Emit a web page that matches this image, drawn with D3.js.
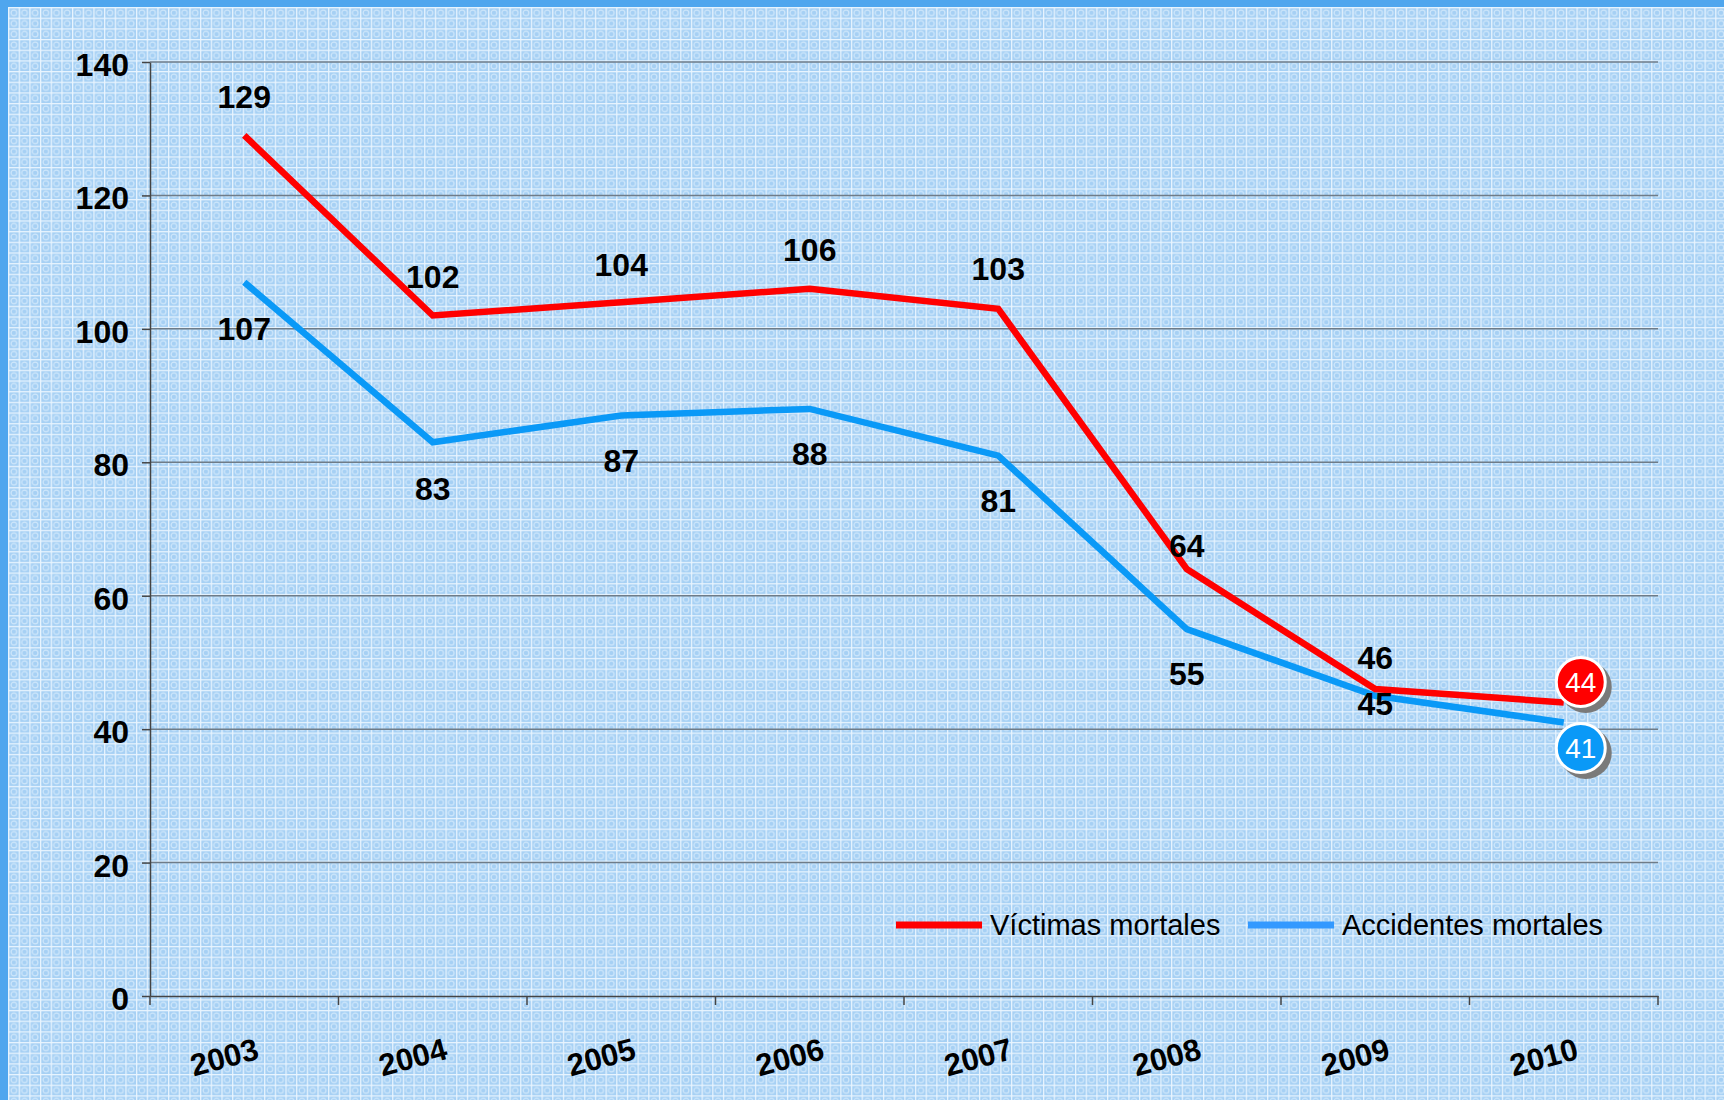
<!DOCTYPE html>
<html><head><meta charset="utf-8">
<script src="https://cdn.jsdelivr.net/npm/d3@7"></script>
<style>html,body{margin:0;padding:0;background:#fff;}svg{display:block;}</style>
</head><body>
<script>
const years = ["2003","2004","2005","2006","2007","2008","2009","2010"];
const victimas = [129,102,104,106,103,64,46,44];
const accidentes = [107,83,87,88,81,55,45,41];
const yTicks = [0,20,40,60,80,100,120,140];
const seriesNames = ["Víctimas mortales","Accidentes mortales"];
// label vertical offsets (px) relative to point
const victimasDy = [-39,-39,-38,-39,-40,-24,-32];
const accidentesDy = [46,46,45,45,45,44,8];

const W=1724,H=1100;
const svg=d3.select("body").append("svg").attr("width",W).attr("height",H);
const defs=svg.append("defs");
const cs=10.67;
const pat=defs.append("pattern").attr("id","bg").attr("patternUnits","userSpaceOnUse")
  .attr("x",8).attr("y",7).attr("width",cs).attr("height",cs);
pat.append("rect").attr("width",cs).attr("height",cs).attr("fill","#a6d0f4");
pat.append("circle").attr("cx",cs/2+0.5).attr("cy",cs/2+0.5).attr("r",2.8).attr("fill","none").attr("stroke","#cfe7fb").attr("stroke-width",1.2);
pat.append("rect").attr("x",0).attr("y",0).attr("width",cs).attr("height",1.3).attr("fill","#e8f4fe");
pat.append("rect").attr("x",0).attr("y",0).attr("width",1.3).attr("height",cs).attr("fill","#e8f4fe");

svg.append("rect").attr("width",W).attr("height",H).attr("fill","url(#bg)");
svg.append("rect").attr("x",0).attr("y",0).attr("width",W).attr("height",7).attr("fill","#4fa6ee");
svg.append("rect").attr("x",0).attr("y",0).attr("width",8).attr("height",H).attr("fill","#4fa6ee");

const x=d3.scaleBand().domain(years).range([150,1658]);
const y=d3.scaleLinear().domain([0,140]).range([996,62]);
const cx=d=>x(d)+x.bandwidth()/2;
const font="'Liberation Sans', Arial, Helvetica, sans-serif";

// gridlines
svg.append("g").selectAll("line").data(yTicks.filter(v=>v>0)).join("line")
  .attr("x1",150).attr("x2",1658).attr("y1",d=>y(d)).attr("y2",d=>y(d))
  .attr("stroke","#6f7c88").attr("stroke-width",1.5);

// y axis
const ya=svg.append("g").attr("transform","translate(150,0)")
  .call(d3.axisLeft(y).tickValues(yTicks).tickSize(8).tickSizeOuter(0).tickPadding(13));
ya.select(".domain").attr("stroke","#444").attr("stroke-width",1.5);
ya.selectAll(".tick line").attr("stroke","#444").attr("stroke-width",1.5);
ya.selectAll(".tick text").attr("font-family",font).attr("font-size",32).attr("font-weight","bold")
  .attr("fill","#000").attr("dy","0.42em");

// x axis
const xa=svg.append("g").attr("transform","translate(0,996)")
  .call(d3.axisBottom(x).tickSize(0).tickFormat(""));
xa.select(".domain").attr("stroke","#444").attr("stroke-width",1.5);
svg.append("g").selectAll("line").data(d3.range(years.length+1)).join("line")
  .attr("x1",i=>150+i*x.step()).attr("x2",i=>150+i*x.step()).attr("y1",996).attr("y2",1005)
  .attr("stroke","#444").attr("stroke-width",1.5);
svg.append("g").selectAll("text").data(years).join("text")
  .attr("transform",d=>`translate(${cx(d)-20},1057) rotate(-15)`)
  .attr("text-anchor","middle").attr("dy","0.35em")
  .attr("font-family",font).attr("font-size",31).attr("font-weight","bold").attr("fill","#000")
  .text(d=>d);

// lines
const line=d3.line().x((d,i)=>cx(years[i])).y(d=>y(d));
svg.append("path").datum(accidentes).attr("d",line).attr("fill","none").attr("stroke","#0a99f7").attr("stroke-width",6.5);
svg.append("path").datum(victimas).attr("d",line).attr("fill","none").attr("stroke","#ff0000").attr("stroke-width",6.5);

// data labels
const lab=(vals,dys)=>svg.append("g").selectAll("text").data(vals.slice(0,7)).join("text")
  .attr("x",(d,i)=>cx(years[i])).attr("y",(d,i)=>y(d)+dys[i])
  .attr("text-anchor","middle").attr("dy","0.36em")
  .attr("font-family",font).attr("font-size",32).attr("font-weight","bold").attr("fill","#000")
  .text(d=>d);
lab(victimas,victimasDy);
lab(accidentes,accidentesDy);

// end markers
const last=years.length-1;
const marker=(val,dy,color)=>{
  const mx=cx(years[last])+17, my=y(val)+dy;
  svg.append("circle").attr("cx",mx+5).attr("cy",my+5).attr("r",26).attr("fill","#7a7a7a");
  svg.append("circle").attr("cx",mx).attr("cy",my).attr("r",24.5).attr("fill",color).attr("stroke","#fff").attr("stroke-width",3);
  svg.append("text").attr("x",mx).attr("y",my).attr("text-anchor","middle").attr("dy","0.36em")
    .attr("font-family",font).attr("font-size",28).attr("fill","#fff").text(val);
};
marker(victimas[last],-20.5,"#ff0000");
marker(accidentes[last],25.5,"#0a99f7");

// legend
const lg=svg.append("g");
const legItems=[{name:seriesNames[0],color:"#ff0000",x:896},{name:seriesNames[1],color:"#3399ff",x:1248}];
legItems.forEach(it=>{
  lg.append("line").attr("x1",it.x).attr("x2",it.x+86).attr("y1",925).attr("y2",925)
    .attr("stroke",it.color).attr("stroke-width",7);
  lg.append("text").attr("x",it.x+94).attr("y",925).attr("dy","0.36em")
    .attr("font-family",font).attr("font-size",29).attr("fill","#000").text(it.name);
});
</script>
</body></html>
